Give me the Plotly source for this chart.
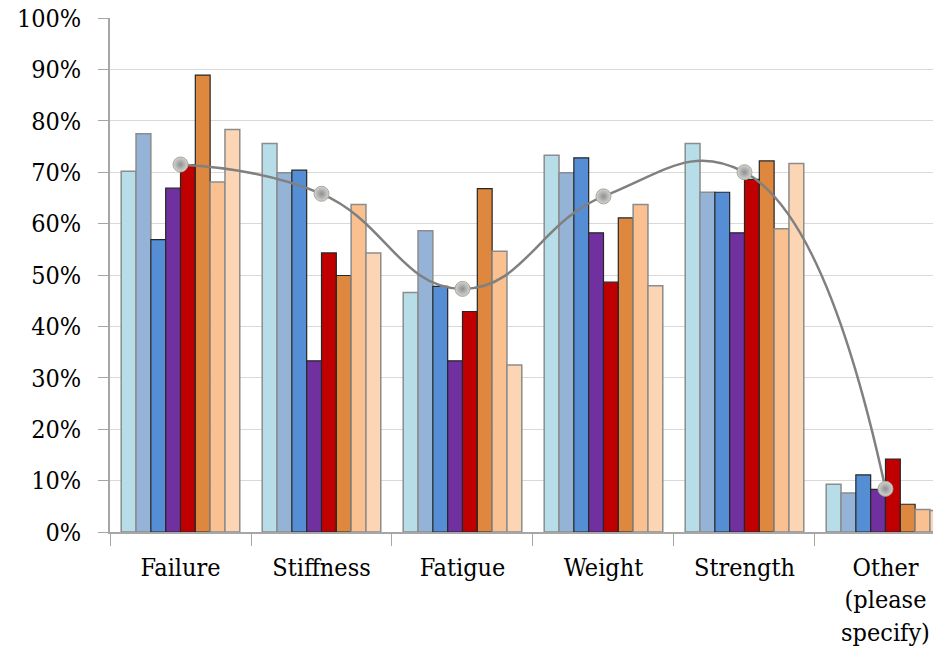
import plotly.graph_objects as go

categories = ["Failure", "Stiffness", "Fatigue", "Weight", "Strength", "Other<br>(please<br>specify)"]

# Percentage of respondents per group (eight groups per category)
group_1 = [70.2, 75.6, 46.6, 73.3, 75.6, 9.3]
group_2 = [77.5, 69.9, 58.6, 69.9, 66.1, 7.6]
group_3 = [56.9, 70.4, 47.8, 72.8, 66.1, 11.1]
group_4 = [66.9, 33.3, 33.3, 58.2, 58.2, 8.3]
group_5 = [71.5, 54.3, 42.9, 48.6, 68.6, 14.2]
group_6 = [88.9, 49.9, 66.8, 61.1, 72.2, 5.4]
group_7 = [68.1, 63.7, 54.6, 63.7, 59.0, 4.4]
group_8 = [78.3, 54.3, 32.5, 47.9, 71.7, 4.2]

# Overall share across all groups
overall = [71.5, 65.8, 47.3, 65.3, 70.0, 8.4]

groups = [group_1, group_2, group_3, group_4, group_5, group_6, group_7, group_8]
fills = ["#b7dde8", "#95b3d7", "#558ed5", "#7030a0", "#c00000", "#dd873f", "#fac090", "#fcd5b5"]
edges = ["#8c8c8c", "#8c8c8c", "#262626", "#262626", "#262626", "#262626", "#8c8c8c", "#8c8c8c"]
edge_w = [1.5, 1.5, 1.2, 1.2, 1.2, 1.2, 1.5, 1.5]

font_family = "DejaVu Serif Condensed, DejaVu Serif, serif"

fig = go.Figure()
for vals, fc, ec, ew in zip(groups, fills, edges, edge_w):
    fig.add_trace(go.Bar(
        x=categories, y=vals,
        marker=dict(color=fc, line=dict(color=ec, width=ew)),
        showlegend=False, hoverinfo="y",
    ))

fig.add_trace(go.Scatter(
    x=categories, y=overall,
    mode="lines+markers",
    line=dict(color="#808080", width=2.5, shape="spline", smoothing=1.3),
    marker=dict(size=15, color="#d4d4d4",
                gradient=dict(type="radial", color="#8f8f8f"),
                line=dict(color="#a3ad95", width=1)),
    showlegend=False,
))

fig.update_layout(
    width=933, height=647,
    margin=dict(l=110, r=0, t=18, b=115),
    paper_bgcolor="white", plot_bgcolor="white",
    barmode="group", bargap=0.159, bargroupgap=0,
    font=dict(family=font_family, size=25, color="#000000"),
    xaxis=dict(
        type="category", range=[-0.5, 5.337],
        showline=True, linecolor="#a6a6a6", linewidth=1.5,
        ticks="outside", tickson="boundaries", ticklen=12,
        tickcolor="#a6a6a6", tickwidth=1,
        showgrid=False, tickfont=dict(size=25),
        ticklabelstandoff=12,
    ),
    yaxis=dict(
        range=[0, 100], dtick=10, ticksuffix="%",
        showline=True, linecolor="#a6a6a6", linewidth=1.5,
        ticks="outside", ticklen=10, tickcolor="#a6a6a6", tickwidth=1,
        showgrid=True, gridcolor="#d9d9d9", gridwidth=1,
        zeroline=False, tickfont=dict(size=25),
        ticklabelstandoff=12,
    ),
)

fig.write_html("out.html")
